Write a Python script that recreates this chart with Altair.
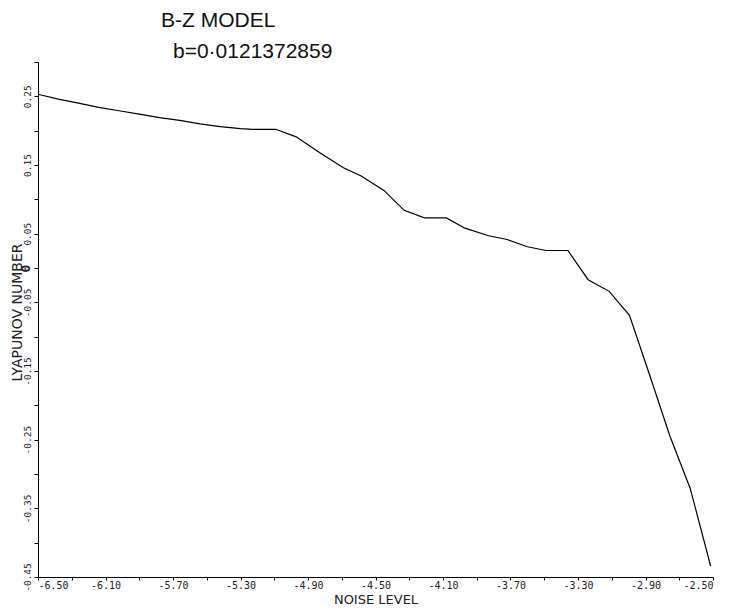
import pandas as pd
import altair as alt

# noise level (x) and lyapunov number (y)
noise = [-6.50, -6.38, -6.26, -6.14, -6.02, -5.90, -5.78, -5.66, -5.54, -5.42,
         -5.30, -5.23, -5.09, -4.97, -4.83, -4.69, -4.585, -4.45, -4.33, -4.21,
         -4.08, -3.97, -3.83, -3.72, -3.60, -3.49, -3.36, -3.24, -3.115, -2.995,
         -2.874, -2.755, -2.635, -2.514]
lyap = [0.253, 0.246, 0.240, 0.234, 0.229, 0.224, 0.219, 0.215, 0.210, 0.206,
        0.203, 0.202, 0.202, 0.191, 0.168, 0.146, 0.134, 0.113, 0.084, 0.073,
        0.073, 0.058, 0.047, 0.0415, 0.031, 0.0255, 0.0255, -0.017, -0.034, -0.069,
        -0.157, -0.245, -0.321, -0.434]

x_ticks = [round(-6.5 + 0.2 * i, 2) for i in range(21)]
y_ticks = [round(-0.45 + 0.05 * i, 2) for i in range(16)]

title = "B-Z MODEL"
subtitle = "b=0·0121372859"

df = pd.DataFrame({"noise": noise, "lyap": lyap})

x_label = ("round((datum.value + 6.5) * 10) % 4 == 0 ? "
           "(datum.value < 0 ? '-' : '') + format(abs(datum.value), '.2f') : ''")
y_label = ("abs(datum.value) < 1e-9 ? '0' : "
           "(abs(round(datum.value * 100)) % 10 == 5 ? "
           "(datum.value < 0 ? '-' : '') + format(abs(datum.value), '.2f') : '')")

line = alt.Chart(df).mark_line(color="black", strokeWidth=1.2).encode(
    x=alt.X("noise:Q", scale=alt.Scale(domain=[-6.5, -2.5], nice=False, zero=False),
            axis=alt.Axis(title="NOISE LEVEL", values=x_ticks, labelExpr=x_label,
                          grid=False, tickSize=3, labelPadding=0,
                          labelFont="DejaVu Sans Mono", labelFontSize=10, labelColor="#222",
                          titleFont="DejaVu Sans", titleFontSize=13, titleFontWeight="normal",
                          titleColor="#222", titlePadding=3,
                          domainColor="black", tickColor="black")),
    y=alt.Y("lyap:Q", scale=alt.Scale(domain=[-0.45, 0.30], nice=False, zero=False),
            axis=alt.Axis(title="LYAPUNOV NUMBER", values=y_ticks, labelExpr=y_label,
                          grid=False, tickSize=4, labelPadding=2, labelAngle=270,
                          labelAlign="center", labelBaseline="bottom",
                          labelFont="DejaVu Sans Mono", labelColor="#222",
                          labelFontSize={"condition": {"test": "abs(datum.value) < 1e-9", "value": 13},
                                         "value": 9.5},
                          labelFontWeight={"condition": {"test": "abs(datum.value) < 1e-9", "value": "bold"},
                                           "value": "normal"},
                          titleFont="DejaVu Sans", titleFontSize=14, titleFontWeight="normal",
                          titleColor="#222", titleX=-21, titleY=250, titleBaseline="middle",
                          domainColor="black", tickColor="black")),
)

head = alt.Chart(pd.DataFrame({"t": [title]})).mark_text(
    align="left", baseline="alphabetic", font="Liberation Sans", fontSize=21, color="#111"
).encode(text="t:N", x=alt.value(123), y=alt.value(-35))

sub = alt.Chart(pd.DataFrame({"t": [subtitle]})).mark_text(
    align="left", baseline="alphabetic", font="Liberation Sans", fontSize=21, color="#111"
).encode(text="t:N", x=alt.value(135), y=alt.value(-4))

chart = (line + head + sub).properties(
    width=675, height=515,
    autosize=alt.AutoSizeParams(type="none"),
    padding={"left": 30, "top": 54, "right": 10, "bottom": 31},
).configure_view(stroke=None)

chart.save("out.html", embed_options={"renderer": "svg", "actions": False})
